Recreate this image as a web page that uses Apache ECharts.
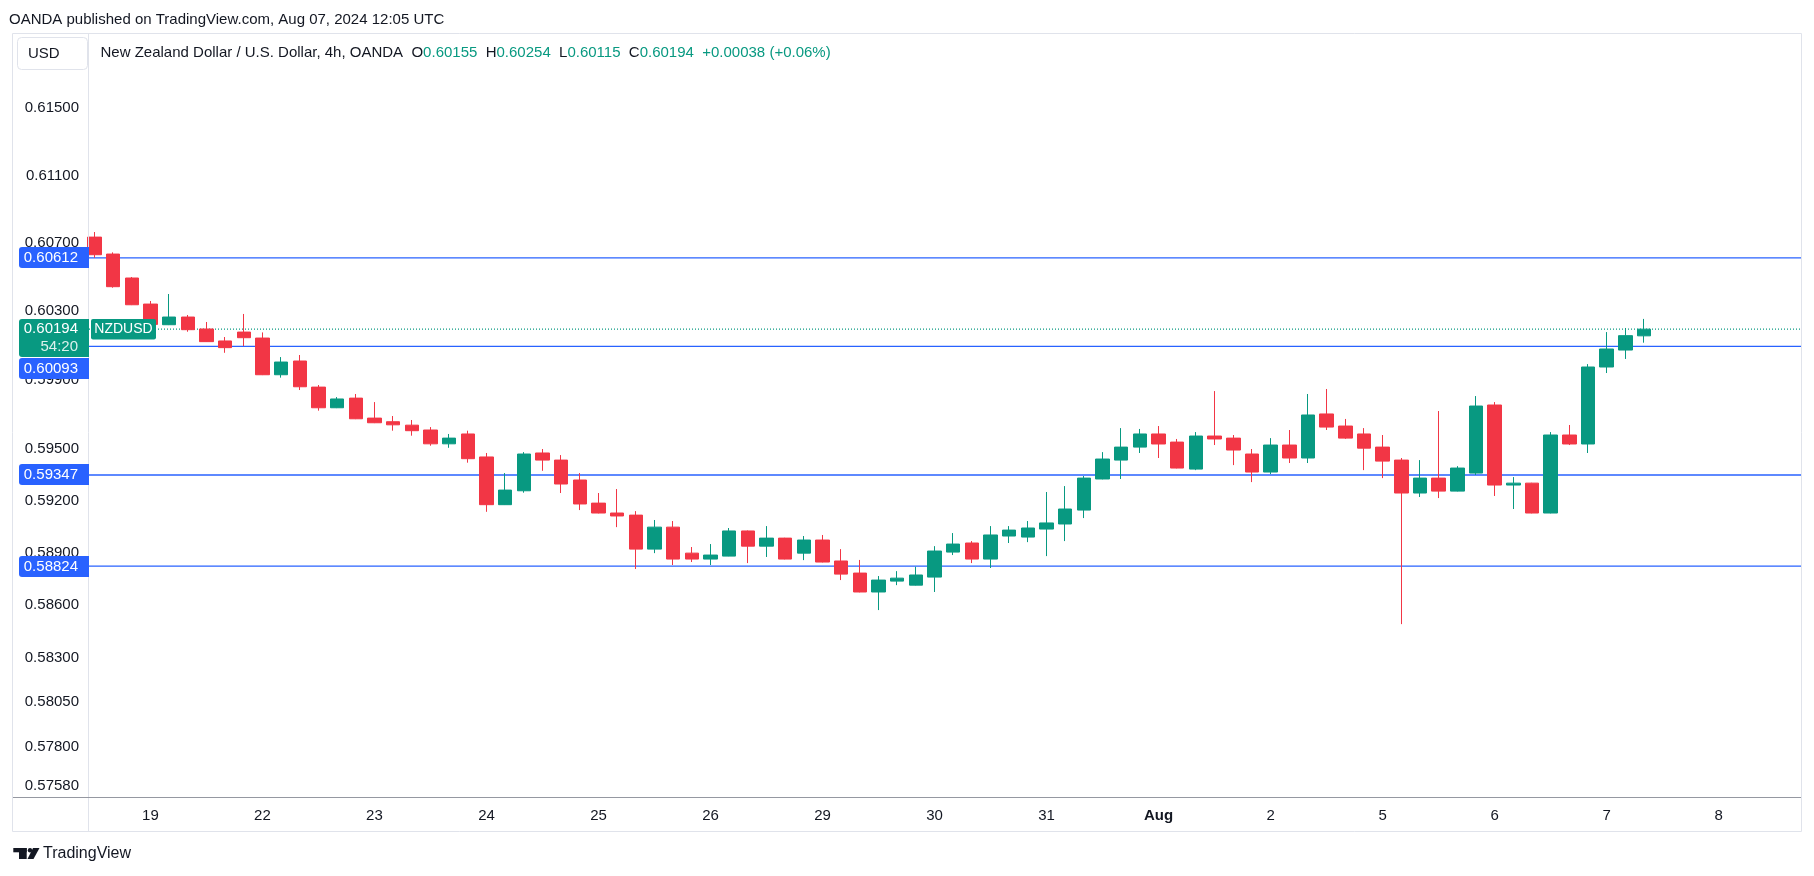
<!DOCTYPE html>
<html>
<head>
<meta charset="utf-8">
<script src="https://cdn.jsdelivr.net/npm/echarts@6/dist/echarts.min.js"></script>
<style>
html,body{margin:0;padding:0;background:#ffffff;}
#c{width:1814px;height:876px;}
</style>
</head>
<body>
<div id="c"></div>
<script>
// ---- data (NZDUSD, 4h, OANDA); x = bar number ----
const opens = [0.60735,0.60635,0.60494,0.60341,0.60220,0.60265,0.60195,0.60125,0.60177,0.60142,
0.59928,0.60008,0.59856,0.59736,0.59792,0.59676,0.59655,0.59635,0.59607,0.59527,
0.59584,0.59451,0.59176,0.59256,0.59474,0.59433,0.59318,0.59185,0.59128,0.59116,
0.58921,0.59047,0.58898,0.58864,0.58881,0.59025,0.58938,0.58984,0.58898,0.58973,
0.58853,0.58784,0.58676,0.58738,0.58715,0.58761,0.58904,0.58956,0.58864,0.58996,
0.58990,0.59036,0.59065,0.59145,0.59324,0.59433,0.59508,0.59584,0.59537,0.59381,
0.59572,0.59560,0.59468,0.59364,0.59520,0.59445,0.59700,0.59630,0.59584,0.59508,
0.59433,0.59243,0.59329,0.59254,0.59358,0.59752,0.59289,0.59300,0.59128,0.59578,
0.59526,0.59973,0.60072,0.60155];
const highs = [0.60765,0.60645,0.60500,0.60359,0.60400,0.60277,0.60236,0.60148,0.60283,0.60175,
0.60031,0.60043,0.59868,0.59798,0.59816,0.59769,0.59688,0.59665,0.59624,0.59584,
0.59603,0.59474,0.59358,0.59479,0.59497,0.59462,0.59358,0.59243,0.59266,0.59139,
0.59088,0.59082,0.58933,0.58950,0.59042,0.59028,0.59053,0.58986,0.58996,0.59002,
0.58921,0.58859,0.58767,0.58795,0.58820,0.58938,0.59013,0.58967,0.59053,0.59053,
0.59082,0.59249,0.59283,0.59341,0.59479,0.59618,0.59613,0.59630,0.59555,0.59595,
0.59833,0.59578,0.59497,0.59560,0.59607,0.59816,0.59845,0.59671,0.59618,0.59578,
0.59445,0.59433,0.59717,0.59398,0.59804,0.59769,0.59335,0.59302,0.59595,0.59636,
0.59990,0.60177,0.60201,0.60254];
const lows = [0.60613,0.60437,0.60335,0.60218,0.60218,0.60179,0.60119,0.60056,0.60095,0.59926,
0.59911,0.59839,0.59719,0.59734,0.59670,0.59647,0.59603,0.59574,0.59516,0.59504,
0.59418,0.59135,0.59174,0.59245,0.59371,0.59243,0.59145,0.59126,0.59047,0.58807,
0.58898,0.58830,0.58847,0.58830,0.58880,0.58841,0.58876,0.58862,0.58858,0.58845,
0.58744,0.58674,0.58573,0.58715,0.58713,0.58676,0.58887,0.58841,0.58813,0.58956,
0.58961,0.58881,0.58967,0.59099,0.59322,0.59324,0.59474,0.59445,0.59385,0.59375,
0.59520,0.59404,0.59306,0.59352,0.59416,0.59416,0.59607,0.59555,0.59375,0.59329,
0.58493,0.59220,0.59214,0.59252,0.59347,0.59226,0.59151,0.59126,0.59126,0.59520,
0.59474,0.59938,0.60020,0.60115];
const closes = [0.60631,0.60443,0.60337,0.60222,0.60265,0.60191,0.60121,0.60086,0.60144,0.59928,
0.60002,0.59858,0.59736,0.59787,0.59672,0.59649,0.59637,0.59603,0.59527,0.59560,
0.59441,0.59176,0.59260,0.59468,0.59433,0.59295,0.59180,0.59128,0.59111,0.58921,
0.59047,0.58864,0.58864,0.58887,0.59025,0.58938,0.58984,0.58864,0.58973,0.58847,
0.58778,0.58676,0.58744,0.58755,0.58773,0.58910,0.58950,0.58864,0.59002,0.59030,
0.59042,0.59071,0.59151,0.59329,0.59439,0.59508,0.59584,0.59526,0.59387,0.59572,
0.59555,0.59491,0.59364,0.59520,0.59445,0.59694,0.59624,0.59560,0.59502,0.59427,
0.59243,0.59329,0.59254,0.59387,0.59746,0.59289,0.59300,0.59128,0.59578,0.59526,
0.59973,0.60078,0.60156,0.60194];

// x-axis day labels (bar number of each day's first bar)
const tickIndex  = [3, 9, 15, 21, 27, 33, 39, 45, 51, 57, 63, 69, 75, 81, 87];
const tickLabels = ['19','22','23','24','25','26','29','30','31','Aug','2','5','6','7','8'];
// y-axis price labels
const yTicks = [0.61500, 0.61100, 0.60700, 0.60300, 0.59900, 0.59500, 0.59200, 0.58900, 0.58600, 0.58300, 0.58050, 0.57800, 0.57580];
// horizontal price levels drawn on the chart
const levels = [0.60612, 0.60093, 0.59347, 0.58824];
const countdown = '54:20';
const symbolName = 'NZDUSD';
const titleText = 'New Zealand Dollar / U.S. Dollar, 4h, OANDA';
const headerText = 'OANDA published on TradingView.com, Aug 07, 2024 12:05 UTC';

// ---- styles ----
const FONT = '"Liberation Sans", Arial, sans-serif';
const UP = '#089981', DOWN = '#f23645', BLUE = '#2962ff', TEXT = '#131722', BORDER = '#e0e3eb';
const X_MIN = -0.29, X_MAX = 91.41;

const n = opens.length;
const candles = opens.map((o, i) => [i, o, closes[i], lows[i], highs[i]]);
const lastO = opens[n-1], lastH = highs[n-1], lastL = lows[n-1], lastC = closes[n-1];
const prevC = closes[n-2];
const chg = lastC - prevC;
const pct = chg / prevC * 100;
const sign = chg >= 0 ? '+' : '-';

const chart = echarts.init(document.getElementById('c'), null, {renderer: 'canvas'});

// horizontal levels as two-point line series (drawn through the log y scale)
const levelSeries = levels.map(v => ({
  type: 'line', data: [[X_MIN, v], [X_MAX, v]], symbol: 'none', silent: true, z: 1,
  lineStyle: {color: BLUE, width: 1.3, type: 'solid'}, emphasis: {disabled: true}
}));
levelSeries.push({
  type: 'line', data: [[X_MIN, lastC], [X_MAX, lastC]], symbol: 'none', silent: true, z: 1,
  lineStyle: {color: UP, width: 1.3, type: [1, 2]}, emphasis: {disabled: true}
});

chart.setOption({
  animation: false,
  backgroundColor: '#ffffff',
  grid: {left: 89, right: 13, top: 34, bottom: 79, containLabel: false},
  xAxis: {
    type: 'value', min: X_MIN, max: X_MAX,
    axisLine: {show: false}, axisTick: {show: false}, splitLine: {show: false},
    axisLabel: {
      customValues: tickIndex,
      formatter: v => { const s = tickLabels[tickIndex.indexOf(v)]; return s === 'Aug' ? '{b|Aug}' : s; },
      color: TEXT, fontSize: 15, fontFamily: FONT, margin: 11,
      rich: {b: {fontWeight: 'bold', fontSize: 15, fontFamily: FONT, color: TEXT}}
    }
  },
  yAxis: {
    type: 'log', logBase: 10, min: 0.575185, max: 0.619457, position: 'left',
    axisLine: {show: false}, axisTick: {show: false}, splitLine: {show: false},
    axisLabel: {
      customValues: yTicks,
      formatter: v => Number(v).toFixed(5),
      color: TEXT, fontSize: 15, fontFamily: FONT, margin: 10
    }
  },
  series: levelSeries.concat([{
    type: 'candlestick',
    data: candles,
    barWidth: 14,
    clip: true,
    z: 2,
    itemStyle: {color: UP, color0: DOWN, borderColor: UP, borderColor0: DOWN, borderWidth: 1}
  }])
});

// ---- overlay decorations placed through the axis scale ----
const g = [];
function rect(x, y, w, h, fill, stroke, r, z) {
  g.push({type: 'rect', shape: {x, y, width: w, height: h, r: r || 0},
    style: {fill: fill || 'none', stroke: stroke || null, lineWidth: 1}, z: z || 100, silent: true});
}
function text(x, y, t, opts, z) {
  g.push({type: 'text', x, y, style: Object.assign({text: t, fill: TEXT, fontSize: 15, fontFamily: FONT,
    align: 'left', verticalAlign: 'middle'}, opts || {}), z: z || 101, silent: true});
}
function line(x1, y1, x2, y2, stroke) {
  g.push({type: 'line', shape: {x1, y1, x2, y2}, style: {stroke, lineWidth: 1}, z: 99, silent: true});
}

// frame
rect(12.5, 33.5, 1789, 798, null, BORDER, 0, 98);
line(88.5, 33.5, 88.5, 831.5, BORDER);
line(13, 797.5, 1801, 797.5, '#9598a1');

// header
text(9, 20, headerText, {fill: '#131722'});

// USD box
rect(17.5, 37.5, 70, 32, '#ffffff', BORDER, 4);
text(28, 54, 'USD');

// legend
const f5 = v => v.toFixed(5);
const legend = titleText + '  O{g|' + f5(lastO) + '}  H{g|' + f5(lastH) + '}  L{g|' + f5(lastL) + '}  C{g|' + f5(lastC) +
  '}  {g|' + sign + Math.abs(chg).toFixed(5) + ' (' + sign + Math.abs(pct).toFixed(2) + '%)}';
text(100.5, 53, legend, {rich: {g: {fill: UP, fontSize: 15, fontFamily: FONT}}});

// price labels on the axis
const yc = chart.convertToPixel({yAxisIndex: 0}, lastC);
const gTop = Math.round(yc) - 10, gBot = gTop + 38;
levels.forEach(v => {
  const y = chart.convertToPixel({yAxisIndex: 0}, v);
  let top = Math.round(y - 10.5);
  if (top < gBot && top + 21 > gTop) { top = v < lastC ? gBot + 1 : gTop - 22; }
  rect(19, top, 70, 21, BLUE, null, [3, 0, 0, 3], 102);
  text(78, top + 10.5, f5(v), {fill: '#ffffff', align: 'right'}, 103);
});
rect(19, gTop, 70, 38, UP, null, [3, 0, 0, 3], 104);
text(78, gTop + 10, f5(lastC), {fill: '#ffffff', align: 'right'}, 105);
text(78, gTop + 28, countdown, {fill: 'rgba(255,255,255,0.85)', align: 'right'}, 105);
rect(91, gTop, 65, 20.5, UP, null, 2, 104);
text(123.5, gTop + 10.3, symbolName, {fill: '#ffffff', align: 'center', fontSize: 14}, 105);

// TradingView logo
g.push({type: 'rect', shape: {x: 13.3, y: 848, width: 13.4, height: 4.3}, style: {fill: TEXT}, z: 100, silent: true});
g.push({type: 'rect', shape: {x: 19, y: 848, width: 7.7, height: 11}, style: {fill: TEXT}, z: 100, silent: true});
g.push({type: 'circle', shape: {cx: 30, cy: 850.2, r: 2.2}, style: {fill: TEXT}, z: 100, silent: true});
g.push({type: 'polygon', shape: {points: [[33, 848], [39.5, 848], [33.5, 859], [27.5, 859]]}, style: {fill: TEXT}, z: 100, silent: true});
text(43, 853.5, 'TradingView', {fontSize: 16});

chart.setOption({graphic: {elements: g}});
</script>
</body>
</html>
